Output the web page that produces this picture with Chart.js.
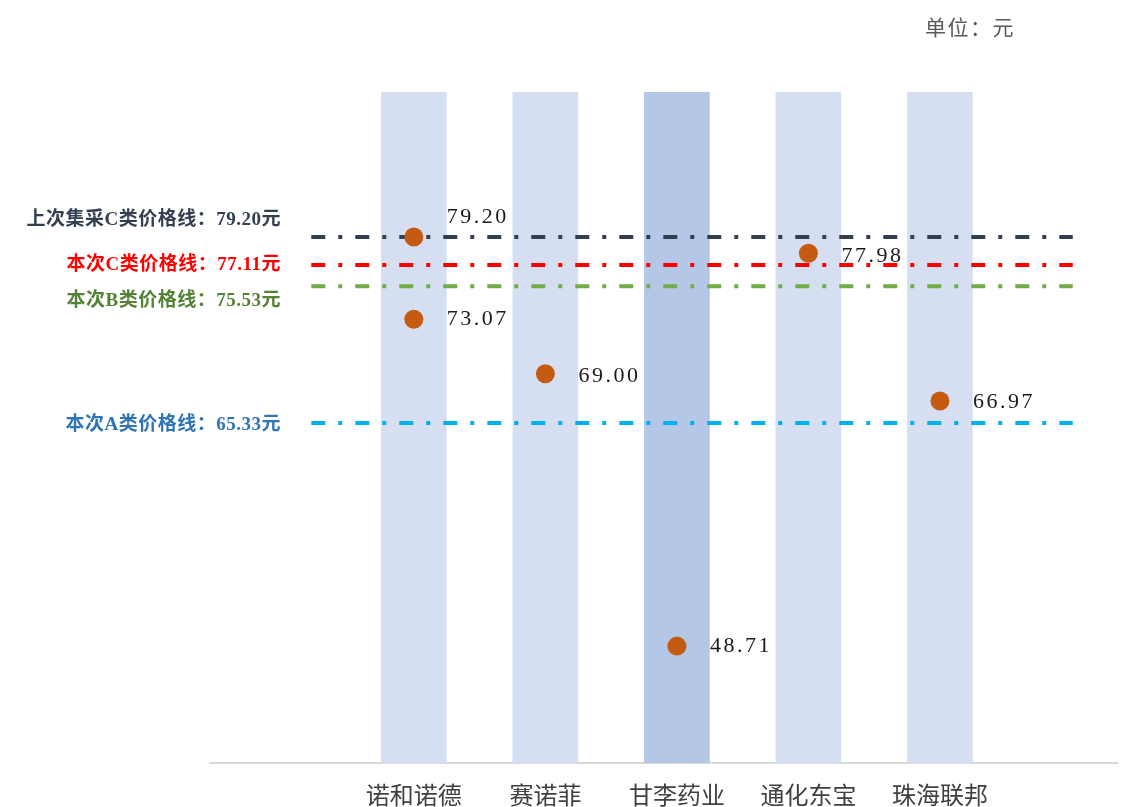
<!DOCTYPE html>
<html>
<head>
<meta charset="utf-8">
<script src="https://cdn.jsdelivr.net/npm/chart.js@4.4.0/dist/chart.umd.min.js"></script>
<style>
  html, body { margin: 0; padding: 0; background: #fff; overflow: hidden; }
  #wrap { width: 1127px; height: 807px; position: relative; }
</style>
</head>
<body>
<div id="wrap"><canvas id="c"></canvas></div>
<script>
const categories = ['诺和诺德', '赛诺菲', '甘李药业', '通化东宝', '珠海联邦'];
const barColors = ['#d6dff2', '#d6dff2', '#b4c7e7', '#d6dff2', '#d6dff2'];

// price points: category index + price (元)
const pointCats = [0, 0, 1, 2, 3, 4];
const pointValues = [79.20, 73.07, 69.00, 48.71, 77.98, 66.97];

// reference price lines
const lineNames = ['上次集采C类价格线', '本次C类价格线', '本次B类价格线', '本次A类价格线'];
const lineValues = [79.20, 77.11, 75.53, 65.33];
const lineColors = ['#333f50', '#ff0000', '#70ad47', '#00b0f0'];
const labelColors = ['#333f50', '#ff0000', '#548235', '#2e75b6'];

const Y_MIN = 40, Y_MAX = 90;
const X_MIN = -1.55, X_MAX = 5.35;
const LINE_X_START = -0.78, LINE_X_END = 5.01;

const h = (v) => v.toFixed(2);
const SERIF = '"Liberation Serif", "Noto Sans CJK SC", serif';
const CJK = '"Noto Sans CJK SC", sans-serif';

const datasets = [];

datasets.push({
  type: 'bar',
  data: categories.map((c, i) => ({ x: i, y: [Y_MIN, Y_MAX] })),
  backgroundColor: barColors,
  borderWidth: 0,
  barThickness: 65,
  grouped: false,
  order: 3
});

lineValues.forEach((v, i) => {
  datasets.push({
    type: 'line',
    data: [{ x: LINE_X_START, y: v }, { x: LINE_X_END, y: v }],
    borderColor: lineColors[i],
    borderWidth: 4,
    borderDash: [14, 13, 4, 13],
    pointRadius: 0,
    fill: false,
    order: 2
  });
});

datasets.push({
  type: 'scatter',
  data: pointValues.map((v, i) => ({ x: pointCats[i], y: v })),
  backgroundColor: '#c55a11',
  borderWidth: 0,
  pointRadius: 9.5,
  order: 1
});

// nudges for text that does not sit exactly on its mark
const pointLabelDy = [-20, 0, 2, 0, 3, 1];
const lineLabelDy = [-17, 0, 15, 2];

const textPlugin = {
  id: 'texts',
  afterDatasetsDraw(chart) {
    const ctx = chart.ctx;
    const xs = chart.scales.x, ys = chart.scales.y;
    ctx.save();
    ctx.textBaseline = 'middle';

    // value labels next to dots
    ctx.fillStyle = '#1a1a1a';
    ctx.font = '22px ' + SERIF;
    ctx.letterSpacing = '2.5px';
    ctx.textAlign = 'left';
    pointValues.forEach((v, i) => {
      const px = xs.getPixelForValue(pointCats[i]);
      const py = ys.getPixelForValue(v);
      ctx.fillText(h(v), px + 33, py + pointLabelDy[i]);
    });

    // reference line labels on the left
    ctx.font = 'bold 19px ' + SERIF;
    ctx.letterSpacing = '0.5px';
    ctx.textAlign = 'right';
    lineValues.forEach((v, i) => {
      ctx.fillStyle = labelColors[i];
      ctx.fillText(lineNames[i] + '：' + h(v) + '元', 281, ys.getPixelForValue(v) + lineLabelDy[i]);
    });

    // unit
    ctx.fillStyle = '#595959';
    ctx.font = '21px ' + CJK;
    ctx.letterSpacing = '1.5px';
    ctx.textAlign = 'left';
    ctx.fillText('单位：元', 925, 27);
    ctx.restore();
  }
};

new Chart(document.getElementById('c'), {
  data: { datasets },
  options: {
    responsive: true,
    maintainAspectRatio: false,
    animation: false,
    layout: { padding: { left: 210, top: 92, right: 0, bottom: 0 } },
    plugins: { legend: { display: false }, tooltip: { enabled: false } },
    scales: {
      x: {
        type: 'linear',
        min: X_MIN,
        max: X_MAX,
        offset: false,
        grid: { display: false, drawTicks: false, offset: false },
        border: { color: '#d9d9d9', width: 2 },
        afterBuildTicks: (s) => { s.ticks = categories.map((c, i) => ({ value: i })); },
        afterFit: (s) => { s.height = 44; },
        ticks: {
          autoSkip: false,
          maxRotation: 0,
          padding: 17,
          color: '#404040',
          font: { family: CJK, size: 24 },
          callback: (v) => categories[v]
        }
      },
      y: {
        type: 'linear',
        min: Y_MIN,
        max: Y_MAX,
        display: false
      }
    }
  },
  plugins: [textPlugin]
});
</script>
</body>
</html>
